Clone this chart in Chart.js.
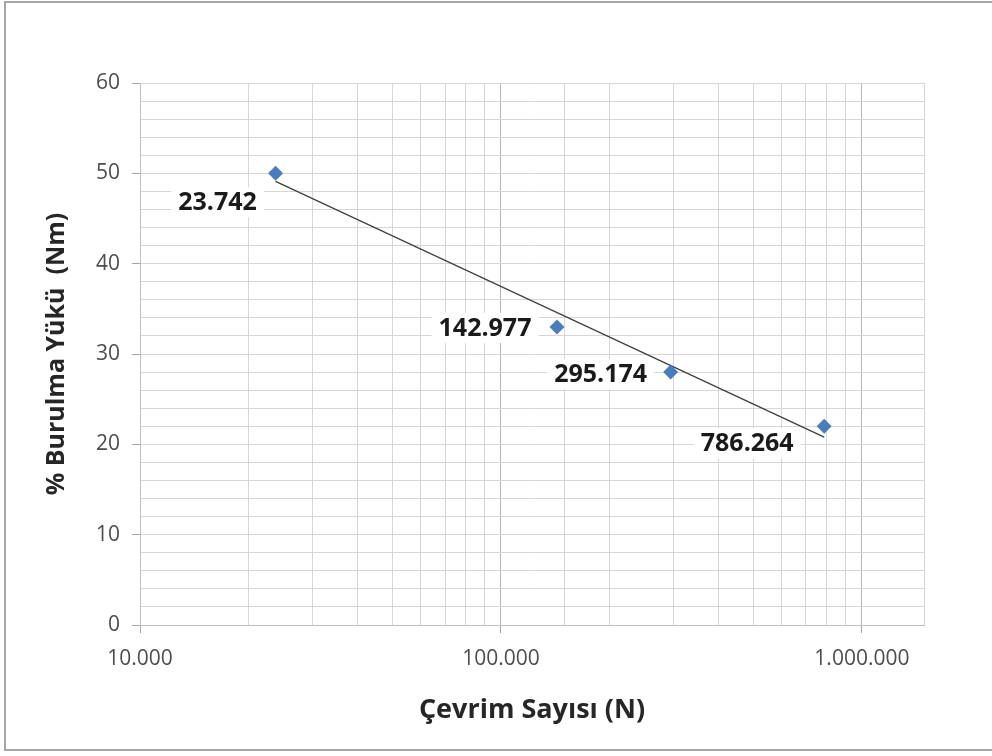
<!DOCTYPE html>
<html>
<head>
<meta charset="utf-8">
<script src="https://cdn.jsdelivr.net/npm/chart.js@4/dist/chart.umd.min.js"></script>
<style>
  html, body { margin: 0; padding: 0; background: #fff; overflow: hidden; }
  #wrap { position: relative; width: 992px; height: 756px; }
  #frame { position: absolute; left: 4px; top: 1px; width: 1000px; height: 750px;
           border: 2px solid #a6a6a6; border-right: none; box-sizing: border-box; pointer-events: none; }
  canvas { position: absolute; left: 0; top: 0; }
</style>
</head>
<body>
<div id="wrap">
  <canvas id="chart" width="992" height="756"></canvas>
  <div id="frame"></div>
</div>
<script>
// Çevrim sayısı (N) ve % burulma yükü (Nm)
const cycles = [23742, 142977, 295174, 786264];
const loads = [50, 33, 28, 22];

// logaritmik eğilim çizgisi, uç noktaları
const trendX = [23742, 786264];
const trendY = [49.1, 20.8];

const xMin = 10000;
const xMax = 1486000;
const yMin = 0;
const yMax = 60;

const FONT = "'Open Sans', Lato, sans-serif";

// 23742 -> "23.742"
function fmt(n) {
  return String(Math.round(n)).replace(/\B(?=(\d{3})+(?!\d))/g, '.');
}

function isDecade(v) {
  const l = Math.log10(v);
  return Math.abs(l - Math.round(l)) < 1e-9;
}

// veri etiketleri: beyaz kutu içinde kalın yazı, noktanın soluna
const labelOffsets = [[-58, 29], [-72, 1], [-70, 2], [-77, 17]];

const dataLabels = {
  id: 'dataLabels',
  afterDatasetsDraw(chart) {
    const meta = chart.getDatasetMeta(0);
    const ctx = chart.ctx;
    ctx.save();
    ctx.font = "bold 25px " + FONT;
    ctx.textAlign = 'center';
    ctx.textBaseline = 'middle';
    meta.data.forEach((pt, i) => {
      const text = fmt(cycles[i]);
      const [dx, dy] = labelOffsets[i];
      const cx = pt.x + dx;
      const cy = pt.y + dy;
      const w = ctx.measureText(text).width + 14;
      const h = 30;
      ctx.fillStyle = '#ffffff';
      ctx.fillRect(cx - w / 2, cy - h / 2, w, h);
      ctx.fillStyle = '#1a1a1a';
      ctx.fillText(text, cx, cy + 1);
    });
    ctx.restore();
  }
};

const ctx = document.getElementById('chart').getContext('2d');

new Chart(ctx, {
  type: 'scatter',
  data: {
    datasets: [
      {
        label: 'Veri',
        data: cycles.map((c, i) => ({ x: c, y: loads[i] })),
        pointStyle: 'rectRot',
        pointRadius: 7.5,
        pointHoverRadius: 7.5,
        backgroundColor: '#4a7ebb',
        borderColor: '#4a7ebb',
        borderWidth: 0,
        order: 0
      },
      {
        type: 'line',
        label: 'Eğilim',
        data: trendX.map((x, i) => ({ x, y: trendY[i] })),
        borderColor: '#404040',
        borderWidth: 1.3,
        pointRadius: 0,
        fill: false,
        tension: 0,
        order: 1
      }
    ]
  },
  options: {
    responsive: false,
    animation: false,
    devicePixelRatio: 1,
    layout: {
      padding: { left: 0, top: 83, right: 68, bottom: 0 }
    },
    plugins: {
      legend: { display: false },
      tooltip: { enabled: false }
    },
    scales: {
      x: {
        type: 'logarithmic',
        min: xMin,
        max: xMax,
        border: { display: true, color: '#bfbfbf', width: 1 },
        grid: {
          color: (c) => (c.tick && isDecade(c.tick.value)) ? '#b5b5b5' : '#d6d6d6',
          lineWidth: 1,
          drawTicks: true,
          tickLength: 8,
          tickColor: (c) => (c.tick && isDecade(c.tick.value)) ? '#a6a6a6' : 'rgba(0,0,0,0)'
        },
        ticks: {
          autoSkip: false,
          maxRotation: 0,
          minRotation: 0,
          padding: 13,
          color: '#4d4d4d',
          font: { family: FONT, size: 21 },
          callback: (v) => isDecade(v) ? fmt(v) : ''
        },
        title: {
          display: true,
          text: 'Çevrim Sayısı (N)',
          color: '#262626',
          font: { family: FONT, size: 27, weight: 'bold' },
          padding: { top: 0, bottom: 29 }
        },
        afterFit: (scale) => { scale.height = 756 - 625; }
      },
      y: {
        min: yMin,
        max: yMax,
        border: { display: true, color: '#bfbfbf', width: 1 },
        grid: {
          color: '#d6d6d6',
          lineWidth: 1,
          drawTicks: true,
          tickLength: 8,
          tickColor: (c) => (c.tick && c.tick.value % 10 === 0) ? '#a6a6a6' : 'rgba(0,0,0,0)'
        },
        ticks: {
          stepSize: 2,
          autoSkip: false,
          padding: 12,
          color: '#4d4d4d',
          font: { family: FONT, size: 21 },
          callback: (v) => v % 10 === 0 ? String(v) : ''
        },
        title: {
          display: true,
          text: '% Burulma Yükü  (Nm)',
          color: '#262626',
          font: { family: FONT, size: 25, weight: 'bold' },
          padding: { top: 42, bottom: 0 }
        },
        afterFit: (scale) => { scale.width = 140; }
      }
    }
  },
  plugins: [dataLabels]
});
</script>
</body>
</html>
